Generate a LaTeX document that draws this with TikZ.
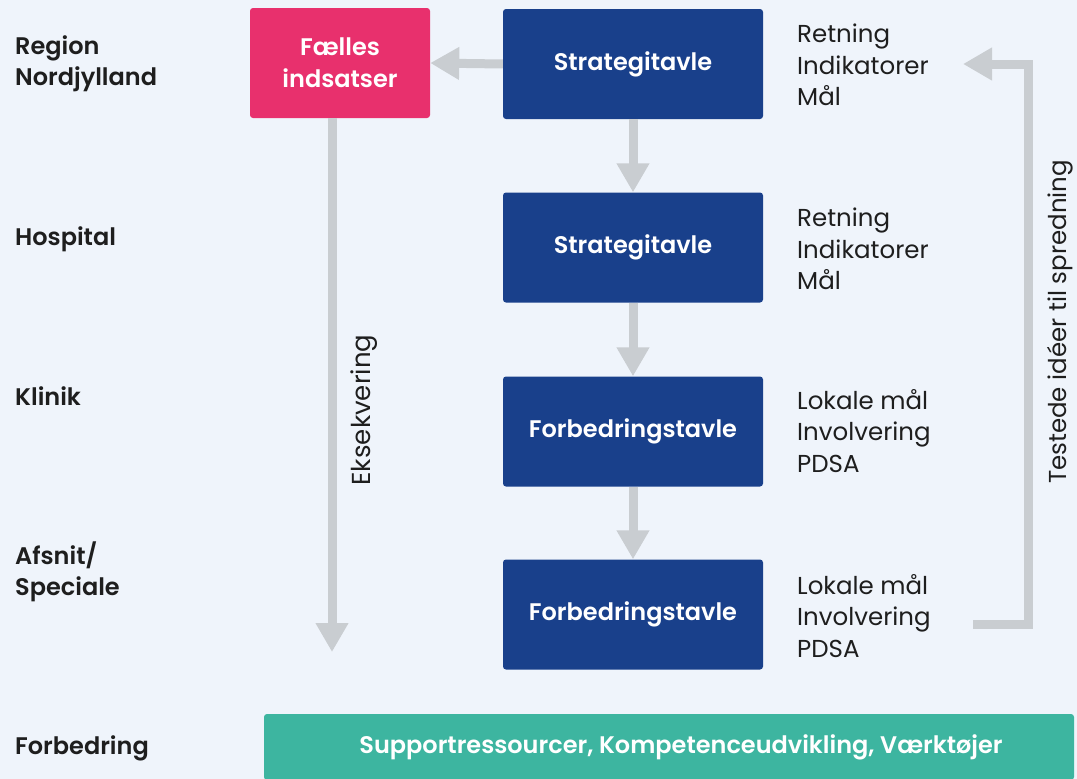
\documentclass[tikz,border=0pt]{standalone}
\usepackage{fontspec}
\setmainfont{Poppins}[BoldFont={Poppins SemiBold}]
\usetikzlibrary{arrows.meta, positioning}

\definecolor{bgblue}{HTML}{EFF4FB}
\definecolor{tavleblue}{HTML}{19408B}
\definecolor{faellespink}{HTML}{E8306D}
\definecolor{supportgreen}{HTML}{3DB5A0}
\definecolor{pilgray}{HTML}{C9CDD1}
\definecolor{tekstgray}{HTML}{1E1E1E}

\tikzset{
  tavle/.style={fill=tavleblue, text=white, font=\bfseries\fontsize{24}{32}\selectfont,
    minimum width=260pt, minimum height=110pt, rounded corners=3pt, align=center, inner sep=0pt},
  faelles/.style={tavle, fill=faellespink, minimum width=180pt},
  support/.style={tavle, fill=supportgreen, minimum width=810pt, minimum height=66pt},
  niveau/.style={anchor=west, align=left, inner sep=0pt, text=tekstgray, font=\bfseries\fontsize{24}{31}\selectfont},
  punkter/.style={anchor=west, align=left, inner sep=0pt, text=tekstgray, font=\fontsize{24.5}{31.5}\selectfont},
  pil/.style={draw=pilgray, line width=9pt, line join=miter, -{Triangle[width=31pt,length=29pt]}}
}

\begin{document}
\begin{tikzpicture}[x=1pt, y=-1pt]
    % Background
    \fill[bgblue] (0,0) rectangle (1077,779);
    \useasboundingbox (0,0) rectangle (1077,779);

    % Levels
    \node[niveau] (region) at (15,64) {Region\\Nordjylland};
    \node[niveau] (hospital) at (15,239) {Hospital};
    \node[niveau] (klinik) at (15,396) {Klinik};
    \node[niveau] (afsnit) at (15,572) {Afsnit/\\Speciale};
    \node[niveau] (forbedring) at (15,748) {Forbedring};

    % Boards
    \node[faelles] (faelles) at (340,63) {Fælles\\indsatser};
    \node[tavle] (strat1) at (633,64) {Strategitavle};
    \node[tavle] (strat2) at (633,247.5) {Strategitavle};
    \node[tavle] (forb1) at (633,431.5) {Forbedringstavle};
    \node[tavle] (forb2) at (633,614.5) {Forbedringstavle};
    \node[support] (support) at (669,747) {\hspace*{24pt}Supportressourcer, Kompetenceudvikling, Værktøjer};

    % Board contents
    \node[punkter] (pkt1) at (797,65) {Retning\\Indikatorer\\Mål};
    \node[punkter] (pkt2) at (797,249) {Retning\\Indikatorer\\Mål};
    \node[punkter] (pkt3) at (797,431) {Lokale mål\\Involvering\\PDSA};
    \node[punkter] (pkt4) at (797,616) {Lokale mål\\Involvering\\PDSA};

    % Flow down
    \draw[pil] (strat1.west) -- (faelles.east);
    \draw[pil] (strat1.south) -- (strat2.north);
    \draw[pil] (strat2.south) -- (forb1.north);
    \draw[pil] (forb1.south) -- (forb2.north);

    % Execution
    \coordinate (eksend) at (332,652);
    \draw[pil] ([xshift=-8pt]faelles.south) -- (eksend);
    \node[punkter, anchor=center, rotate=90, font=\fontsize{26}{31.5}\selectfont] (eks) at (364,410) {Eksekvering};

    % Spreading back up
    \coordinate (fbstart) at (973,624);
    \coordinate (fbend) at (963,64);
    \draw[pil] (fbstart) -- (1028,624) -- (1028,64) -- (fbend);
    \node[punkter, anchor=center, rotate=90] (spredning) at (1060,322) {Testede idéer til spredning};
\end{tikzpicture}
\end{document}
